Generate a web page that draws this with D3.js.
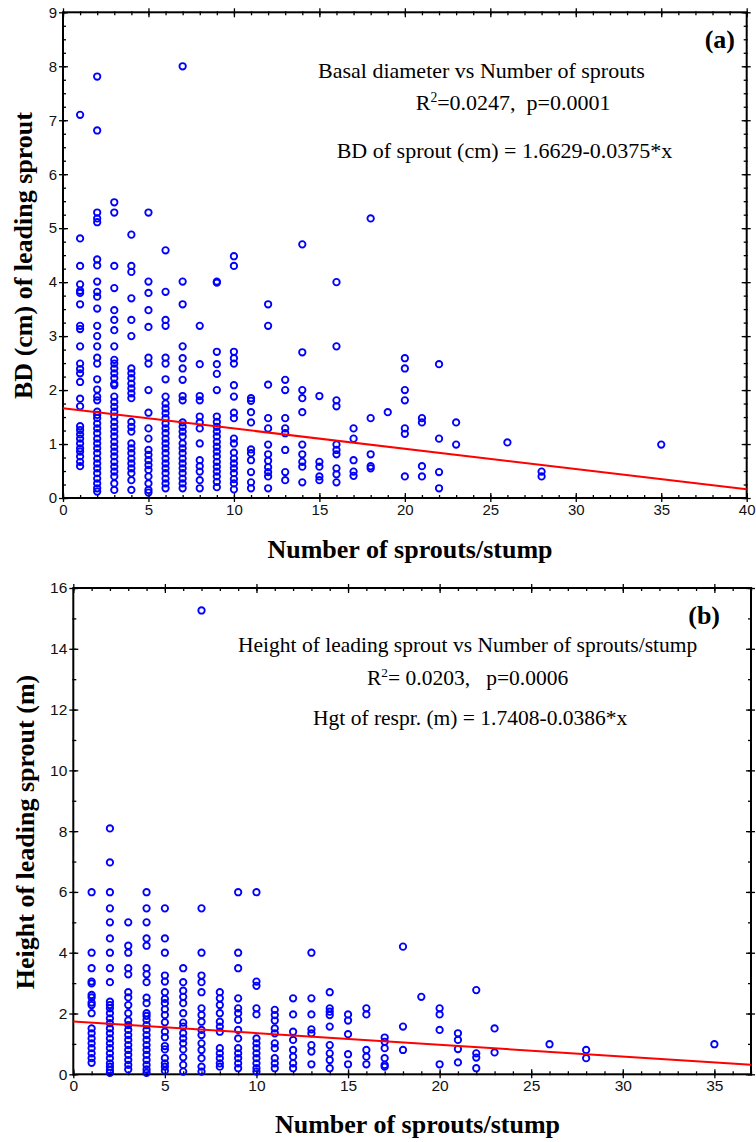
<!DOCTYPE html>
<html>
<head>
<meta charset="utf-8">
<script src="https://cdn.jsdelivr.net/npm/d3@7"></script>
<style>
  body { margin: 0; background: #fff; }
  svg { display: block; }
</style>
</head>
<body>
<script>
// ---- Panel (a): basal diameter of the leading sprout vs sprouts per stump ----
const bdCounts = [1, 2, 3, 4, 5, 6, 7, 8, 9, 10, 11, 12, 13, 14, 15, 16, 17, 18, 19, 20, 21, 22, 23, 26, 28, 35];
const bdValues = [
  [7.10, 4.81, 4.30, 3.96, 3.84, 3.80, 3.59, 3.19, 3.13, 2.81, 2.49, 2.39, 2.31, 2.15, 1.84, 1.70, 1.33, 1.26, 1.18, 1.10, 1.01, 0.92, 0.86, 0.77, 0.67, 0.59],
  [7.81, 6.81, 5.29, 5.18, 5.11, 4.42, 4.31, 4.01, 3.82, 3.73, 3.51, 3.19, 3.00, 2.81, 2.60, 2.49, 2.20, 2.01, 1.88, 1.81, 1.60, 1.54, 1.48, 1.38, 1.29, 1.20, 1.10, 1.01, 0.92, 0.83, 0.73, 0.64, 0.55, 0.46, 0.36, 0.27, 0.18, 0.12],
  [5.48, 5.29, 4.30, 3.89, 3.48, 3.30, 3.11, 2.81, 2.56, 2.49, 2.40, 2.31, 2.22, 2.12, 2.09, 1.88, 1.78, 1.69, 1.60, 1.51, 1.41, 1.32, 1.23, 1.14, 1.04, 0.95, 0.86, 0.77, 0.67, 0.58, 0.49, 0.40, 0.27, 0.15],
  [4.88, 4.30, 4.19, 3.70, 3.30, 3.00, 2.40, 2.31, 2.22, 2.12, 2.03, 1.94, 1.85, 1.41, 1.32, 1.23, 1.01, 0.92, 0.83, 0.73, 0.64, 0.55, 0.46, 0.33, 0.15],
  [5.29, 4.01, 3.80, 3.48, 3.17, 2.60, 2.49, 2.00, 1.58, 1.29, 1.10, 0.89, 0.80, 0.70, 0.61, 0.52, 0.40, 0.27, 0.15, 0.10],
  [4.59, 3.82, 3.30, 3.19, 2.60, 2.49, 2.20, 1.88, 1.75, 1.66, 1.57, 1.48, 1.38, 1.29, 1.20, 1.10, 1.01, 0.92, 0.83, 0.73, 0.64, 0.55, 0.46, 0.36, 0.27, 0.18],
  [8.00, 4.01, 3.59, 2.81, 2.59, 2.40, 2.19, 1.89, 1.81, 1.40, 1.32, 1.23, 1.14, 1.01, 0.92, 0.83, 0.73, 0.64, 0.55, 0.46, 0.36, 0.27, 0.18],
  [3.19, 2.48, 1.89, 1.81, 1.51, 1.40, 1.29, 1.01, 0.70, 0.59, 0.49, 0.33, 0.18],
  [4.01, 3.99, 2.71, 2.48, 2.30, 2.00, 1.51, 1.41, 1.32, 1.23, 1.14, 1.04, 0.95, 0.86, 0.77, 0.67, 0.58, 0.49, 0.40, 0.30, 0.20],
  [4.48, 4.30, 2.71, 2.59, 2.49, 2.09, 1.88, 1.58, 1.48, 1.10, 1.01, 0.84, 0.73, 0.64, 0.55, 0.46, 0.35, 0.27, 0.16],
  [1.85, 1.80, 1.59, 1.40, 0.90, 0.83, 0.70, 0.48, 0.29, 0.18],
  [3.59, 3.19, 2.10, 1.48, 1.29, 0.99, 0.81, 0.69, 0.57, 0.48, 0.40, 0.18],
  [2.19, 2.00, 1.48, 1.29, 1.20, 0.89, 0.48, 0.33],
  [4.70, 2.70, 2.00, 1.85, 1.59, 0.99, 0.81, 0.67, 0.58, 0.29],
  [1.89, 0.67, 0.58, 0.40, 0.33],
  [4.00, 2.81, 1.81, 1.70, 0.99, 0.89, 0.81, 0.55, 0.44, 0.29],
  [1.29, 1.10, 0.70, 0.49, 0.41],
  [5.18, 1.48, 0.81, 0.59, 0.55],
  [1.59],
  [2.59, 2.40, 2.00, 1.81, 1.29, 1.19, 0.40],
  [1.48, 1.40, 0.59, 0.40],
  [2.48, 1.10, 0.48, 0.18],
  [1.40, 0.99],
  [1.03],
  [0.49, 0.40],
  [0.99]
];
const bdFit = { intercept: 1.6629, slope: -0.0375 };
const bdXTicks = [0, 5, 10, 15, 20, 25, 30, 35, 40];
const bdYTicks = [0, 1, 2, 3, 4, 5, 6, 7, 8, 9];

// ---- Panel (b): height of the leading sprout vs sprouts per stump ----
const htCounts = [1, 2, 3, 4, 5, 6, 7, 8, 9, 10, 11, 12, 13, 14, 15, 16, 17, 18, 19, 20, 21, 22, 23, 26, 28, 35];
const htValues = [
  [5.99, 4.00, 3.49, 3.05, 2.99, 2.61, 2.53, 2.36, 2.28, 2.01, 1.51, 1.35, 1.18, 1.02, 0.86, 0.69, 0.53, 0.38],
  [8.09, 6.97, 5.99, 5.46, 5.00, 4.47, 4.00, 3.49, 3.03, 2.39, 2.28, 2.17, 2.01, 1.84, 1.68, 1.51, 1.35, 1.18, 1.02, 0.86, 0.69, 0.53, 0.36, 0.25, 0.14, 0.05],
  [5.00, 4.23, 4.00, 3.49, 3.29, 2.70, 2.53, 2.28, 2.01, 1.77, 1.62, 1.46, 1.29, 1.13, 0.96, 0.80, 0.64, 0.47, 0.31, 0.16],
  [5.99, 5.46, 5.00, 4.47, 4.23, 3.49, 3.29, 3.03, 2.52, 2.34, 2.01, 1.92, 1.79, 1.62, 1.46, 1.29, 1.13, 0.96, 0.80, 0.64, 0.47, 0.31, 0.16, 0.05],
  [5.46, 4.47, 4.00, 3.25, 3.05, 2.70, 2.48, 2.34, 2.14, 1.95, 1.71, 1.40, 1.22, 0.93, 0.82, 0.53, 0.36, 0.25, 0.12],
  [3.49, 3.03, 2.75, 2.55, 2.34, 2.01, 1.70, 1.57, 1.35, 1.18, 1.02, 0.82, 0.56, 0.31, 0.09],
  [15.26, 5.46, 4.00, 3.25, 3.03, 2.70, 2.17, 1.95, 1.73, 1.46, 1.29, 1.02, 0.80, 0.53, 0.25, 0.09],
  [2.70, 2.50, 2.28, 2.01, 1.73, 1.57, 1.40, 0.86, 0.69, 0.53, 0.36, 0.25],
  [5.99, 4.00, 3.49, 2.50, 2.17, 2.01, 1.79, 1.46, 1.18, 0.86, 0.69, 0.53, 0.36, 0.20],
  [5.99, 3.05, 2.91, 2.17, 1.97, 1.18, 1.02, 0.86, 0.69, 0.53, 0.36, 0.20, 0.09],
  [2.12, 1.95, 1.77, 1.51, 1.35, 1.02, 0.86, 0.53, 0.36, 0.20],
  [2.50, 1.97, 1.40, 1.13, 0.80, 0.58, 0.36, 0.20],
  [4.00, 2.50, 1.97, 1.48, 1.35, 0.96, 0.75, 0.33],
  [2.70, 2.17, 2.06, 1.95, 1.57, 0.96, 0.69, 0.47, 0.20],
  [1.97, 1.77, 1.32, 0.66, 0.33],
  [2.17, 1.97, 0.80, 0.58, 0.33],
  [1.21, 1.07, 0.86, 0.53, 0.31, 0.25],
  [4.20, 1.57, 0.80],
  [2.55],
  [2.17, 1.97, 1.46, 0.33],
  [1.35, 1.13, 0.83, 0.39],
  [2.77, 0.69, 0.55, 0.20],
  [1.51, 0.72],
  [0.99],
  [0.80, 0.53],
  [0.99]
];
const htFit = { intercept: 1.7408, slope: -0.0386 };
const htXTicks = [0, 5, 10, 15, 20, 25, 30, 35];
const htYTicks = [0, 2, 4, 6, 8, 10, 12, 14, 16];

const SERIF = '"Liberation Serif", "Times New Roman", Times, serif';
const SANS = '"Liberation Sans", Arial, Helvetica, sans-serif';

const svg = d3.select('body').append('svg')
  .attr('width', 756).attr('height', 1142)
  .style('background', '#fff');

function flatten(counts, values) {
  const pts = [];
  counts.forEach((c, i) => values[i].forEach(v => pts.push({ n: c, v })));
  return pts;
}

function drawPanel(p) {
  const x = d3.scaleLinear().domain(p.xDomain).range([p.left, p.right]);
  const y = d3.scaleLinear().domain(p.yDomain).range([p.bottom, p.top]);
  const g = svg.append('g');

  const minorX = d3.range(p.xDomain[0], p.xDomain[1] + 1e-9, p.xMinor);
  const minorY = d3.range(p.yDomain[0], p.yDomain[1] + 1e-9, p.yMinor);

  // axis builder: ticks straddle the frame line
  function axis(gen, orient, at, ticks, labels, inner, outer) {
    const a = gen.tickValues(ticks).tickSizeOuter(0).tickSize(0);
    if (labels) a.tickFormat(d3.format('d')).tickPadding(p.tickPad);
    else a.tickFormat('');
    const ax = g.append('g').attr('transform', at).call(a);
    ax.select('.domain').remove();
    ax.selectAll('.tick text')
      .attr('font-family', SANS).attr('font-size', p.tickFont).attr('fill', '#111');
    const horiz = (orient === 'bottom' || orient === 'top');
    const sgn = (orient === 'bottom' || orient === 'right') ? 1 : -1;
    ax.selectAll('.tick line')
      .attr('stroke', '#000').attr('stroke-width', 1.3)
      .attr(horiz ? 'y1' : 'x1', -sgn * inner)
      .attr(horiz ? 'y2' : 'x2', sgn * outer);
    return ax;
  }

  // minor ticks
  axis(d3.axisBottom(x), 'bottom', `translate(0,${p.bottom})`, minorX, false, 3, 1);
  axis(d3.axisTop(x), 'top', `translate(0,${p.top})`, minorX, false, 3, 1);
  axis(d3.axisLeft(y), 'left', `translate(${p.left},0)`, minorY, false, 3, 1);
  axis(d3.axisRight(y), 'right', `translate(${p.right},0)`, minorY, false, 3, 1);
  // major ticks
  axis(d3.axisBottom(x), 'bottom', `translate(0,${p.bottom})`, p.xTicks, true, 5, 4);
  axis(d3.axisTop(x), 'top', `translate(0,${p.top})`, p.xTicks, false, 5, 4);
  axis(d3.axisLeft(y), 'left', `translate(${p.left},0)`, p.yTicks, true, 5, 4);
  axis(d3.axisRight(y), 'right', `translate(${p.right},0)`, p.yTicks, false, 5, 4);

  // frame
  g.append('rect')
    .attr('x', p.left).attr('y', p.top)
    .attr('width', p.right - p.left).attr('height', p.bottom - p.top)
    .attr('fill', 'none').attr('stroke', '#000').attr('stroke-width', 2);

  // observations
  g.append('g').selectAll('circle')
    .data(flatten(p.counts, p.values))
    .join('circle')
    .attr('cx', d => x(d.n)).attr('cy', d => y(d.v))
    .attr('r', 3.2)
    .attr('fill', 'none').attr('stroke', '#0000ff').attr('stroke-width', 1.85);

  // fitted regression line
  const x0 = p.xDomain[0], x1 = p.xDomain[1];
  g.append('line')
    .attr('x1', x(x0)).attr('y1', y(p.fit.intercept + p.fit.slope * x0))
    .attr('x2', x(x1)).attr('y2', y(p.fit.intercept + p.fit.slope * x1))
    .attr('stroke', '#ff0000').attr('stroke-width', 2);

  // axis titles
  g.append('text')
    .attr('x', p.xTitle[0]).attr('y', p.xTitle[1])
    .attr('text-anchor', 'middle')
    .attr('font-family', SERIF).attr('font-weight', 'bold').attr('font-size', 26)
    .text(p.xLabel);
  g.append('text')
    .attr('transform', `translate(${p.yTitle[0]},${p.yTitle[1]}) rotate(-90)`)
    .attr('text-anchor', 'middle')
    .attr('font-family', SERIF).attr('font-weight', 'bold').attr('font-size', 26)
    .text(p.yLabel);

  // panel tag
  g.append('text')
    .attr('x', p.tag[0]).attr('y', p.tag[1])
    .attr('text-anchor', 'end')
    .attr('font-family', SERIF).attr('font-weight', 'bold').attr('font-size', 26)
    .text(p.tagText);

  // annotation lines
  const af = p.annFont;
  g.append('text')
    .attr('x', p.ann[0][0]).attr('y', p.ann[0][1])
    .attr('font-family', SERIF).attr('font-size', af)
    .text(p.annTitle);
  const r2 = g.append('text')
    .attr('x', p.ann[1][0]).attr('y', p.ann[1][1])
    .attr('font-family', SERIF).attr('font-size', af)
    .style('white-space', 'pre');
  r2.append('tspan').text('R');
  r2.append('tspan').attr('font-size', af * 0.62).attr('dy', -af * 0.38).text('2');
  r2.append('tspan').attr('dy', af * 0.38).text(p.annStats);
  g.append('text')
    .attr('x', p.ann[2][0]).attr('y', p.ann[2][1])
    .attr('font-family', SERIF).attr('font-size', af)
    .text(p.annEq);
}

drawPanel({
  counts: bdCounts, values: bdValues, fit: bdFit,
  xDomain: [0, 40], yDomain: [0, 9], xTicks: bdXTicks, yTicks: bdYTicks,
  xMinor: 1, yMinor: 0.25,
  left: 63, right: 746.7, top: 12.3, bottom: 498,
  tickFont: 15, tickPad: 6,
  xLabel: 'Number of sprouts/stump', yLabel: 'BD (cm) of leading sprout',
  xTitle: [410, 558], yTitle: [32, 255.5],
  tagText: '(a)', tag: [735, 48],
  annFont: 22,
  annTitle: 'Basal diameter vs Number of sprouts',
  annStats: '=0.0247,  p=0.0001',
  annEq: 'BD of sprout (cm) = 1.6629-0.0375*x',
  ann: [[318, 78], [415.7, 110], [336.7, 158]]
});

drawPanel({
  counts: htCounts, values: htValues, fit: htFit,
  xDomain: [0, 37], yDomain: [0, 16], xTicks: htXTicks, yTicks: htYTicks,
  xMinor: 1, yMinor: 1,
  left: 73.3, right: 751, top: 588, bottom: 1074.3,
  tickFont: 15.5, tickPad: 6,
  xLabel: 'Number of sprouts/stump', yLabel: 'Height of leading sprout (m)',
  xTitle: [417.5, 1133], yTitle: [34, 832],
  tagText: '(b)', tag: [720, 624],
  annFont: 21.5,
  annTitle: 'Height of leading sprout vs Number of sprouts/stump',
  annStats: '= 0.0203,   p=0.0006',
  annEq: 'Hgt of respr. (m) = 1.7408-0.0386*x',
  ann: [[238, 652], [367, 685], [313, 725]]
});
</script>
</body>
</html>
